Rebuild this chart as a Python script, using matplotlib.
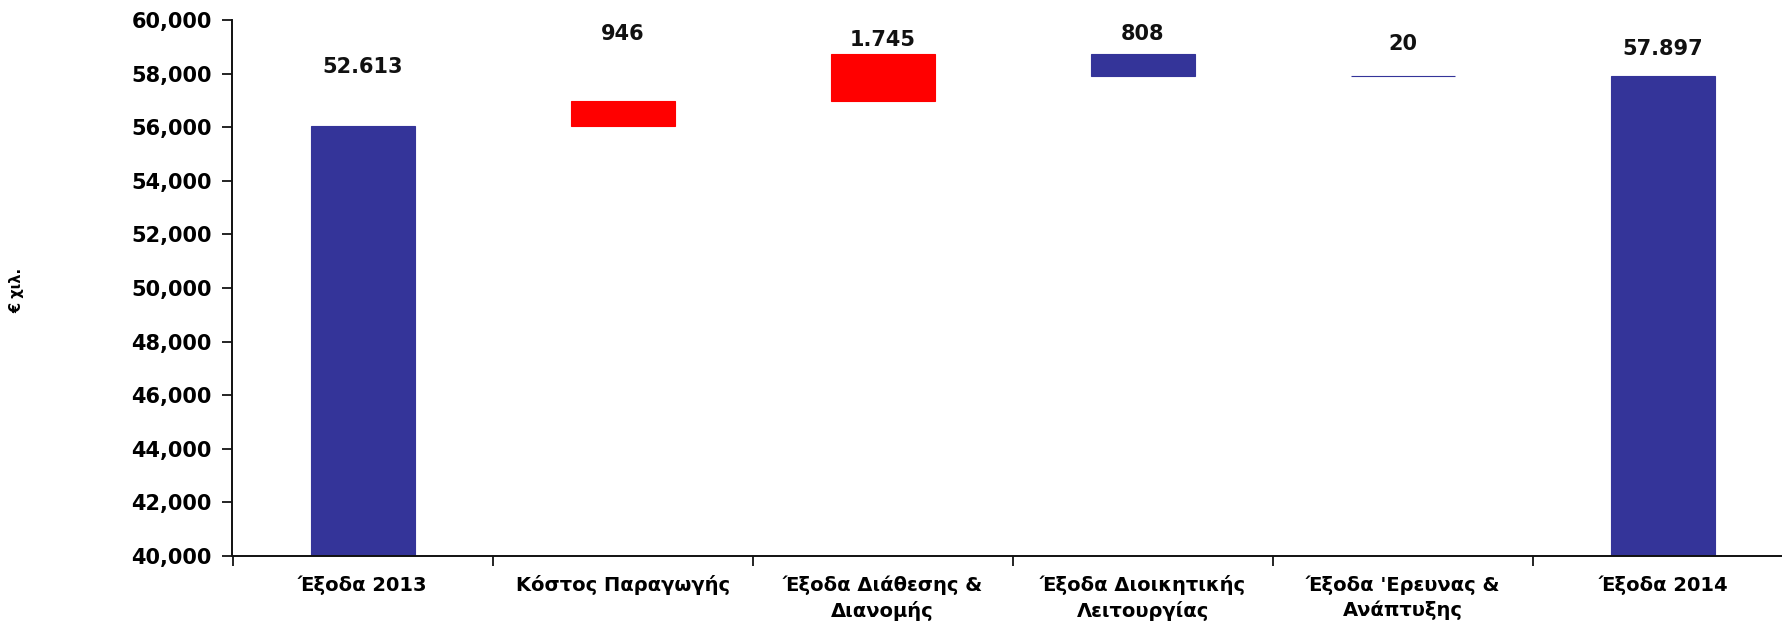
import matplotlib
matplotlib.use("Agg")
import matplotlib.pyplot as plt
from matplotlib.ticker import FuncFormatter, FixedLocator

# ---- data ----
categories = ["Έξοδα 2013", "Κόστος Παραγωγής", "Έξοδα Διάθεσης &\nΔιανομής",
              "Έξοδα Διοικητικής\nΛειτουργίας", "Έξοδα 'Ερευνας &\nΑνάπτυξης", "Έξοδα 2014"]
start_value = 56034
changes = [946, 1745, -808, -20]
end_value = 57897
value_labels = ["52.613", "946", "1.745", "808", "20", "57.897"]
label_offsets = [1977, 2262, 312, 529, 957, 786]   # label baseline above bar top (data units)

BLUE = "#343499"
RED = "#FF0000"

# ---- build waterfall geometry ----
bottoms, heights, colors = [], [], []
y0 = 40000
bottoms.append(y0); heights.append(start_value - y0); colors.append(BLUE)
cum = start_value
for c in changes:
    if c >= 0:
        bottoms.append(cum); heights.append(c); colors.append(RED)
    else:
        bottoms.append(cum + c); heights.append(-c); colors.append(BLUE)
    cum += c
bottoms.append(y0); heights.append(end_value - y0); colors.append(BLUE)
tops = [b + h for b, h in zip(bottoms, heights)]

plt.rcParams['font.family'] = ['DejaVu Sans']
fig = plt.figure(figsize=(17.83, 6.23), dpi=100)
ax = fig.add_axes([232.5 / 1783, 67 / 623, (1793 - 232.5) / 1783, (556 - 20) / 623])

x = list(range(len(categories)))
ax.bar(x, heights, bottom=bottoms, width=0.40, color=colors,
       edgecolor=colors, linewidth=0.8)

for xi, top, lab, off in zip(x, tops, value_labels, label_offsets):
    ax.text(xi, top + off, lab, ha='center', va='baseline',
            fontsize=15, fontweight='bold', color='#111111')

ax.set_xlim(-0.5, len(categories) - 0.5)
ax.set_ylim(40000, 60000)
ax.set_yticks(range(40000, 60001, 2000))
ax.yaxis.set_major_formatter(FuncFormatter(lambda v, p: f"{int(v):,}"))

ax.set_xticks(x)
ax.set_xticklabels(categories, fontsize=14, fontweight='bold', linespacing=1.35)
ax.xaxis.set_minor_locator(FixedLocator([i - 0.5 for i in range(len(categories) + 1)]))
ax.tick_params(axis='x', which='major', length=0, pad=14)
ax.tick_params(axis='x', which='minor', length=7, width=1.2, direction='out')
ax.tick_params(axis='y', length=7, width=1.2, direction='out', pad=8,
               labelsize=15)
for t in ax.get_yticklabels():
    t.set_fontweight('bold')

for s in ['top', 'right']:
    ax.spines[s].set_visible(False)
for s in ['left', 'bottom']:
    ax.spines[s].set_linewidth(1.4)
    ax.spines[s].set_color('#111111')

fig.text(17 / 1783, 1 - 290 / 623, "€ χιλ.", rotation=90, ha='center', va='center',
         fontsize=10.5, fontweight='bold')

fig.savefig("out.png", dpi=100)
